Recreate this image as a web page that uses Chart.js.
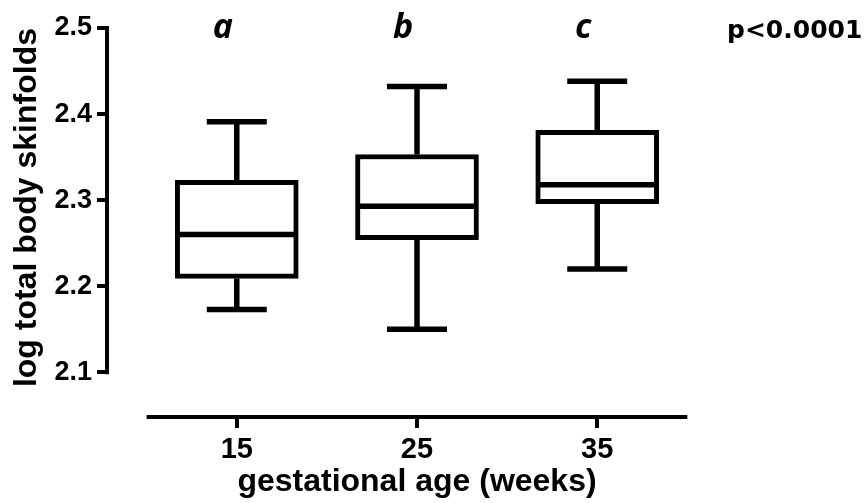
<!DOCTYPE html>
<html>
<head>
<meta charset="utf-8">
<script src="https://cdn.jsdelivr.net/npm/chart.js@4"></script>
<style>
  html, body { margin: 0; padding: 0; background: #fff; }
</style>
</head>
<body>
<canvas id="chart" width="868" height="503"></canvas>
<script>
// valeurs
const weeks = [15, 25, 35];
const whiskerLow = [2.173, 2.150, 2.220];
const q1 = [2.209, 2.254, 2.296];
const median = [2.260, 2.293, 2.318];
const q3 = [2.323, 2.353, 2.381];
const whiskerHigh = [2.391, 2.432, 2.438];
const yTicks = [2.1, 2.2, 2.3, 2.4, 2.5];
const groupLetters = ["a", "b", "c"];
const pValue = "p<0.0001";

// moustaches, mediane, axes detaches et annotations
const boxExtras = {
    id: "boxExtras",
    afterDatasetsDraw(chart) {
        const ctx = chart.ctx;
        const x = chart.scales.x, y = chart.scales.y;
        ctx.save();
        ctx.strokeStyle = "#000";
        ctx.lineWidth = 5.5;
        ctx.lineCap = "butt";
        weeks.forEach((w, i) => {
            const cx = x.getPixelForValue(w);
            ctx.beginPath();
            ctx.moveTo(cx, y.getPixelForValue(q3[i]));
            ctx.lineTo(cx, y.getPixelForValue(whiskerHigh[i]));
            ctx.moveTo(cx, y.getPixelForValue(q1[i]));
            ctx.lineTo(cx, y.getPixelForValue(whiskerLow[i]));
            ctx.moveTo(cx - 30, y.getPixelForValue(whiskerHigh[i]));
            ctx.lineTo(cx + 30, y.getPixelForValue(whiskerHigh[i]));
            ctx.moveTo(cx - 30, y.getPixelForValue(whiskerLow[i]));
            ctx.lineTo(cx + 30, y.getPixelForValue(whiskerLow[i]));
            ctx.moveTo(cx - 59, y.getPixelForValue(median[i]));
            ctx.lineTo(cx + 59, y.getPixelForValue(median[i]));
            ctx.stroke();
        });
        ctx.restore();
    },
    afterDraw(chart) {
        const ctx = chart.ctx;
        const x = chart.scales.x, y = chart.scales.y;
        const area = chart.chartArea;
        ctx.save();
        ctx.strokeStyle = "#000";
        ctx.lineWidth = 4;
        ctx.beginPath();
        ctx.moveTo(area.left, y.getPixelForValue(yTicks[0]) + 2);
        ctx.lineTo(area.left, y.getPixelForValue(yTicks[yTicks.length - 1]) - 2);
        ctx.moveTo(x.getPixelForValue(10), area.bottom);
        ctx.lineTo(x.getPixelForValue(40), area.bottom);
        ctx.stroke();

        ctx.fillStyle = "#000";
        ctx.textBaseline = "alphabetic";
        ctx.textAlign = "center";
        ctx.font = "italic 700 34px 'Open Sans'";
        groupLetters.forEach((l, i) => {
            ctx.fillText(l, x.getPixelForValue(weeks[i]) - 14, area.top + 10);
        });
        ctx.textAlign = "left";
        ctx.font = "bold 25px 'DejaVu Sans'";
        ctx.fillText(pValue, 727, area.top + 10);
        ctx.restore();
    }
};

new Chart(document.getElementById("chart"), {
    type: "bar",
    data: {
        datasets: [{
            data: weeks.map((w, i) => ({ x: w, y: [q1[i], q3[i]] })),
            backgroundColor: "#fff",
            borderColor: "#000",
            borderWidth: 5,
            borderSkipped: false,
            barThickness: 123
        }]
    },
    options: {
        responsive: false,
        animation: false,
        layout: { padding: { top: 28, right: 141, left: 0, bottom: 0 } },
        plugins: { legend: { display: false }, tooltip: { enabled: false } },
        scales: {
            x: {
                type: "linear",
                min: 7.8,
                max: 42.2,
                offset: false,
                afterBuildTicks: s => { s.ticks = weeks.map(v => ({ value: v })); },
                afterFit: s => { s.height = 86; },
                grid: { offset: false, drawOnChartArea: false, drawTicks: true, tickLength: 11, lineWidth: 4, color: "#000" },
                border: { display: false },
                ticks: { color: "#000", padding: 5, font: { family: "'Liberation Sans'", weight: "bold", size: 29 } },
                title: {
                    display: true,
                    text: "gestational age (weeks)",
                    color: "#000",
                    padding: { top: 0, bottom: 2 },
                    font: { family: "'Liberation Sans'", weight: "bold", size: 32 }
                }
            },
            y: {
                min: 2.048,
                max: 2.5,
                beginAtZero: false,
                afterBuildTicks: s => { s.ticks = yTicks.map(v => ({ value: v })); },
                afterFit: s => { s.width = 107; },
                grid: { drawOnChartArea: false, drawTicks: true, tickLength: 10, lineWidth: 4, color: "#000" },
                border: { display: false },
                ticks: {
                    color: "#000",
                    padding: 5,
                    callback: v => v.toFixed(1),
                    font: { family: "'Liberation Sans'", weight: "bold", size: 27 }
                },
                title: {
                    display: true,
                    text: "log total body skinfolds",
                    color: "#000",
                    align: "end",
                    padding: { top: 8, bottom: 0 },
                    font: { family: "'Liberation Sans'", weight: "bold", size: 32 }
                }
            }
        }
    },
    plugins: [boxExtras]
});
</script>
</body>
</html>
